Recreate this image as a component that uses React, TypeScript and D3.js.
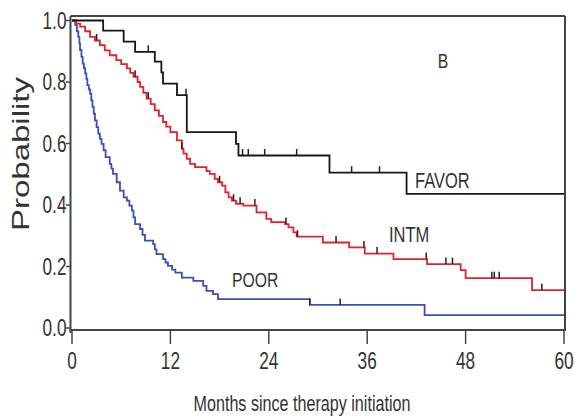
import React from "react";
import * as d3 from "d3";

// ---- data ----
const X_TICKS = [0, 12, 24, 36, 48, 60];
const Y_TICKS = [0, 0.2, 0.4, 0.6, 0.8, 1.0];
const Y_TICK_LABELS = ["0.0", "0.2", "0.4", "0.6", "0.8", "1.0"];

const favorTimes = [0, 3.8, 6.3, 7.7, 10.1, 10.9, 11.1, 12.8, 14.0, 20.0, 20.3, 31.4, 40.8, 60];
const favorSurv = [1.0, 0.967, 0.931, 0.898, 0.866, 0.831, 0.795, 0.757, 0.637, 0.599, 0.561, 0.505, 0.436, 0.436];
const favorCensor = [9.3, 13.9, 20.8, 21.5, 23.5, 27.4, 34.1, 37.5];

const intmTimes = [0, 0.5, 1.0, 1.6, 2.2, 2.8, 3.4, 4.0, 4.6, 5.4, 6.0, 6.7, 7.1, 7.5, 8.0, 8.3, 8.7, 9.1, 9.6, 10.1, 10.6, 11.1, 11.5, 12.0, 12.8, 13.4, 13.6, 14.0, 14.4, 15.0, 16.4, 16.8, 17.4, 17.8, 18.3, 18.7, 19.1, 19.5, 20.0, 20.9, 22.5, 23.7, 24.3, 26.0, 26.4, 27.0, 27.4, 30.6, 33.8, 35.7, 39.2, 43.3, 47.4, 48.0, 56.1, 60];
const intmSurv = [1.0, 0.99, 0.98, 0.965, 0.947, 0.935, 0.92, 0.903, 0.887, 0.871, 0.858, 0.844, 0.83, 0.817, 0.8, 0.784, 0.765, 0.746, 0.728, 0.708, 0.69, 0.67, 0.655, 0.637, 0.61, 0.583, 0.567, 0.55, 0.534, 0.523, 0.51, 0.501, 0.485, 0.474, 0.463, 0.441, 0.425, 0.414, 0.404, 0.398, 0.376, 0.355, 0.344, 0.338, 0.327, 0.311, 0.297, 0.278, 0.262, 0.242, 0.224, 0.208, 0.188, 0.162, 0.123, 0.123];
const intmCensor = [3.0, 7.7, 9.3, 13.4, 18.0, 19.7, 20.5, 22.3, 26.1, 27.5, 32.2, 35.6, 37.2, 43.2, 45.6, 46.4, 51.2, 51.5, 52.1, 57.3];

const poorTimes = [0, 0.4, 0.6, 0.77, 0.9, 0.98, 1.15, 1.3, 1.45, 1.6, 1.75, 1.87, 2.05, 2.2, 2.35, 2.5, 2.65, 2.8, 3.0, 3.2, 3.4, 3.6, 3.85, 4.1, 4.6, 4.8, 5.0, 5.45, 5.85, 6.3, 6.7, 7.0, 7.3, 7.5, 7.7, 8.3, 8.6, 8.9, 9.9, 10.1, 10.3, 11.1, 11.4, 11.7, 12.2, 12.6, 13.4, 14.8, 16.0, 16.4, 17.2, 17.8, 29.0, 43.0, 60];
const poorSurv = [1.0, 0.985, 0.965, 0.947, 0.925, 0.904, 0.882, 0.86, 0.845, 0.828, 0.81, 0.79, 0.776, 0.762, 0.74, 0.719, 0.697, 0.675, 0.653, 0.632, 0.615, 0.599, 0.578, 0.556, 0.534, 0.518, 0.501, 0.474, 0.447, 0.425, 0.414, 0.398, 0.382, 0.36, 0.338, 0.322, 0.303, 0.284, 0.273, 0.256, 0.24, 0.224, 0.213, 0.202, 0.19, 0.18, 0.164, 0.153, 0.137, 0.121, 0.11, 0.094, 0.075, 0.042, 0.042];
const poorCensor = [29.0, 32.7];

const SERIES = [
  { name: "POOR", times: poorTimes, surv: poorSurv, censor: poorCensor, color: "#3d4fb3" },
  { name: "INTM", times: intmTimes, surv: intmSurv, censor: intmCensor, color: "#e3232b" },
  { name: "FAVOR", times: favorTimes, surv: favorSurv, censor: favorCensor, color: "#161616" },
];

const W = 575;
const H = 420;
const SQ = 0.75; // horizontal squeeze of text
const FONT = "'Liberation Sans', Arial, sans-serif";
const TXT = "#333";

function survAt(times: number[], surv: number[], t: number) {
  let v = surv[0];
  for (let i = 0; i < times.length; i++) {
    if (times[i] <= t) v = surv[i];
  }
  return v;
}

function SText(props: { x: number; y: number; size: number; anchor?: string; children: React.ReactNode; sx?: number }) {
  const { x, y, size, anchor = "start", children, sx = SQ } = props;
  return (
    <text
      transform={`translate(${x},${y}) scale(${sx},1)`}
      fontSize={size}
      fontFamily={FONT}
      fill={TXT}
      textAnchor={anchor}
    >
      {children}
    </text>
  );
}

export default function App() {
  const x = d3.scaleLinear().domain([0, 60]).range([72, 564]);
  const y = d3.scaleLinear().domain([0, 1]).range([328, 20.5]);
  const line = d3
    .line<[number, number]>()
    .x((d) => x(d[0]))
    .y((d) => y(d[1]))
    .curve(d3.curveStepAfter);

  const axisLeft = 70.5;
  const axisBottom = 330;
  const frameTop = 16;
  const frameRight = 565;

  return (
    <svg width={W} height={H} style={{ position: "absolute", left: 0, top: 0, background: "#fff" }}>
      <rect x={0} y={0} width={W} height={H} fill="#fff" />
      {/* curves */}
      {SERIES.map((s) => (
        <path
          key={s.name}
          d={line(s.times.map((t, i) => [t, s.surv[i]] as [number, number])) || ""}
          fill="none"
          stroke={s.color}
          strokeWidth={1.8}
        />
      ))}
      {/* censor marks */}
      {SERIES.map((s) =>
        s.censor.map((c, i) => {
          const v = survAt(s.times, s.surv, c);
          return (
            <line
              key={s.name + i}
              x1={x(c)}
              x2={x(c)}
              y1={y(v) - 6.5}
              y2={y(v)}
              stroke="#222"
              strokeWidth={1.5}
            />
          );
        })
      )}
      {/* frame */}
      <line x1={axisLeft} x2={frameRight} y1={frameTop} y2={frameTop} stroke="#444" strokeWidth={2} />
      <line x1={frameRight} x2={frameRight} y1={frameTop} y2={axisBottom} stroke="#444" strokeWidth={2} />
      <line x1={axisLeft} x2={axisLeft} y1={frameTop} y2={axisBottom + 3} stroke="#444" strokeWidth={2} />
      <line x1={axisLeft - 1} x2={frameRight + 1} y1={axisBottom} y2={axisBottom} stroke="#444" strokeWidth={2} />
      {/* y ticks */}
      {Y_TICKS.map((v, i) => (
        <g key={"yt" + i}>
          <line x1={axisLeft - 4.5} x2={axisLeft} y1={y(v)} y2={y(v)} stroke="#444" strokeWidth={1.5} />
          <SText x={axisLeft - 4} y={y(v) + 8} size={23} anchor="end">
            {Y_TICK_LABELS[i]}
          </SText>
        </g>
      ))}
      {/* x ticks */}
      {X_TICKS.map((v) => (
        <g key={"xt" + v}>
          <line x1={x(v)} x2={x(v)} y1={axisBottom} y2={axisBottom + 14} stroke="#444" strokeWidth={1.5} />
          <SText x={x(v)} y={369} size={23} anchor="middle">
            {String(v)}
          </SText>
        </g>
      ))}
      {/* axis titles */}
      <text
        transform={`translate(29,154) scale(${SQ},1) rotate(-90)`}
        fontSize={33}
        fontFamily={FONT}
        fill={TXT}
        textAnchor="middle"
      >
        Probability
      </text>
      <SText x={302} y={411} size={21.5} anchor="middle">
        Months since therapy initiation
      </SText>
      {/* annotations */}
      <SText x={443} y={68} size={21} anchor="middle">B</SText>
      <SText x={415} y={188} size={22}>FAVOR</SText>
      <SText x={389} y={242} size={22}>INTM</SText>
      <SText x={232} y={287} size={21}>POOR</SText>
    </svg>
  );
}
